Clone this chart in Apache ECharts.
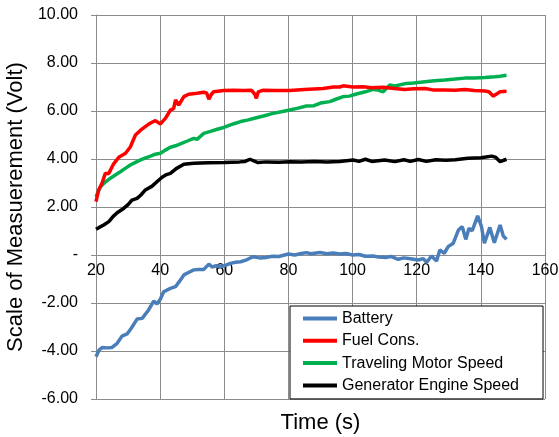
<!DOCTYPE html>
<html><head><meta charset="utf-8">
<script src="https://cdn.jsdelivr.net/npm/echarts@6/dist/echarts.min.js"></script>
<style>html,body{margin:0;padding:0;background:#fff}#c{width:559px;height:437px}</style>
</head><body><div id="c"></div>
<script>
const seriesNames = ['Battery', 'Fuel Cons.', 'Traveling Motor Speed', 'Generator Engine Speed'];
const xTicks = [20, 40, 60, 80, 100, 120, 140, 160];
const yTicks = [-6, -4, -2, 0, 2, 4, 6, 8, 10];

const battery = [[20,-4.24],[21,-3.95],[22,-3.85],[23.5,-3.87],[25,-3.85],[26.6,-3.68],[28.1,-3.38],[29.7,-3.29],[31,-3.05],[32.8,-2.67],[34.4,-2.64],[36.4,-2.29],[38,-1.92],[39,-2.04],[40,-1.85],[41.1,-1.53],[43.2,-1.39],[44.8,-1.32],[46,-1.1],[47.4,-0.83],[49,-0.72],[50.5,-0.62],[52,-0.6],[53.6,-0.6],[55.2,-0.38],[56.2,-0.5],[57.5,-0.45],[58.8,-0.49],[60.5,-0.42],[61.9,-0.35],[63.5,-0.3],[65.1,-0.28],[67,-0.2],[69,-0.07],[71,-0.12],[73.2,-0.1],[75,-0.05],[77,-0.06],[80,0.04],[82,0.0],[84,0.06],[85.6,0.1],[87,0.05],[89.8,0.1],[92,0.05],[94,0.08],[96,0.04],[98,0.06],[100,0.0],[102,0.02],[104,-0.05],[106.4,-0.04],[108,-0.08],[110.6,-0.1],[112,-0.06],[114.2,-0.18],[116,-0.12],[118,-0.16],[120.5,-0.21],[122,-0.15],[123.1,-0.3],[124.6,-0.04],[126.2,-0.25],[127.2,0.21],[128.6,0.07],[129.8,0.35],[131.4,0.49],[133,1.04],[134.2,1.18],[135.3,0.65],[136.3,1.11],[137.3,1.01],[139,1.63],[140.2,1.18],[141.1,0.49],[142.8,1.15],[144.2,0.51],[146,1.25],[147,0.79],[148,0.65]];

const fuel = [[20,2.22],[20.8,2.7],[21.9,3.0],[22.9,3.4],[24,3.4],[25.5,3.8],[27.1,4.07],[29.2,4.24],[30.7,4.5],[32.3,5.0],[33.9,5.2],[35.9,5.4],[37,5.5],[38.5,5.6],[40.1,5.46],[41.7,5.7],[43.2,6.04],[44.2,6.1],[44.8,6.46],[45.8,6.25],[47.4,6.6],[48.9,6.7],[51.5,6.74],[53.6,6.78],[54.5,6.75],[55.2,6.49],[56,6.7],[56.7,6.8],[59.8,6.85],[63,6.86],[66,6.85],[68.5,6.86],[69.5,6.7],[70,6.53],[70.6,6.8],[72,6.86],[76,6.85],[80.4,6.85],[85,6.9],[90.8,6.94],[94,7.0],[96,7.0],[97.1,7.05],[100,7.0],[103.3,7.01],[106,6.97],[109.5,6.99],[113,6.94],[116.3,6.9],[119,6.93],[122.6,6.94],[125,6.88],[128.8,6.88],[132,6.86],[135,6.9],[138,6.85],[141.3,6.83],[142.5,6.8],[143.9,6.62],[145,6.72],[146,6.8],[148,6.82]];

const motor = [[20,2.43],[21.4,2.85],[23,3.05],[24.5,3.2],[26,3.33],[27.6,3.47],[29,3.6],[30.7,3.75],[32.3,3.86],[33.9,3.96],[35.5,4.05],[37,4.12],[38.5,4.2],[40.1,4.24],[41.6,4.37],[43.2,4.49],[44.8,4.55],[46.3,4.63],[48.5,4.75],[50.5,4.86],[51.5,4.82],[53.6,5.07],[55.7,5.15],[57.8,5.24],[59.5,5.3],[60.9,5.37],[63,5.47],[65.1,5.56],[67.5,5.63],[70,5.72],[72.5,5.8],[75.2,5.9],[77.8,5.97],[80.4,6.04],[83,6.12],[85.6,6.21],[88,6.22],[90,6.33],[92.9,6.39],[95,6.5],[97.1,6.6],[99,6.62],[101.2,6.71],[104,6.8],[106.4,6.9],[108,6.87],[109.5,6.8],[111.6,7.08],[113.2,7.04],[116.8,7.15],[119,7.17],[122.6,7.22],[125.5,7.26],[128.8,7.29],[132,7.33],[135,7.37],[138,7.38],[141.3,7.4],[144.4,7.43],[146,7.45],[148,7.49]];

const generator = [[20,1.07],[21,1.15],[22.4,1.25],[24,1.39],[25.3,1.6],[26.6,1.76],[28.6,1.94],[30,2.1],[31.2,2.29],[32.8,2.36],[34,2.5],[35.4,2.71],[37.5,2.87],[39,3.05],[40.6,3.24],[42,3.35],[43.2,3.4],[45,3.6],[47.4,3.78],[50.5,3.82],[55,3.84],[60,3.85],[64.8,3.88],[66.5,3.9],[68,3.99],[70.5,3.85],[73,3.88],[77,3.86],[80.4,3.89],[84,3.88],[88,3.9],[92,3.88],[96,3.9],[100.2,3.96],[102,3.9],[104,3.99],[106,3.9],[108,3.93],[110,3.96],[113.2,3.89],[116,3.97],[118,3.9],[120.5,3.98],[123,3.9],[126,3.97],[129,3.95],[132,3.97],[136,4.03],[140,4.05],[143.4,4.12],[144.5,4.08],[146,3.89],[148,3.99]];

const colors = ['#4a7ebb', '#ff0000', '#00b050', '#000000'];
const datasets = [battery, fuel, motor, generator];

const W = 559, H = 437;
const gridTop = 15, gridBottom = 38;
const yMin = yTicks[0], yMax = yTicks[yTicks.length - 1];
const plotH = H - gridTop - gridBottom;
// distance from the grid bottom to the y = 0 line, so the x axis crosses at zero
const zeroOffset = plotH * (0 - yMin) / (yMax - yMin);

const chart = echarts.init(document.getElementById('c'));
const font = 'Liberation Sans, Arial, sans-serif';
const gridColor = '#8c8c8c';
chart.setOption({
  animation: false,
  textStyle: { fontFamily: font },
  grid: { left: 96, right: 14, top: gridTop, bottom: gridBottom, containLabel: false, outerBoundsMode: 'none' },
  legend: {
    orient: 'vertical', left: 290, top: 306,
    data: seriesNames,
    icon: 'rect',
    backgroundColor: '#fff',
    borderColor: '#000', borderWidth: 1,
    padding: [4, 24, 5, 13],
    itemWidth: 34, itemHeight: 4, itemGap: 5.3,
    textStyle: { fontSize: 16, color: '#000', fontFamily: font, lineHeight: 17 }
  },
  xAxis: {
    type: 'value', position: 'bottom', offset: -zeroOffset,
    min: xTicks[0], max: xTicks[xTicks.length - 1], interval: 20,
    name: 'Time (s)', nameLocation: 'middle', nameGap: 157,
    nameTextStyle: { fontSize: 22, color: '#000', fontFamily: font },
    axisLine: { onZero: false, lineStyle: { color: gridColor, width: 1 } },
    axisTick: { show: false },
    axisLabel: { fontSize: 16, color: '#000', margin: 8, fontFamily: font },
    splitLine: { show: true, lineStyle: { color: gridColor, width: 1 } }
  },
  yAxis: {
    type: 'value', min: yMin, max: yMax, interval: 2,
    name: 'Scale of Measuerement (Volt)', nameLocation: 'middle', nameGap: 65,
    nameTextStyle: { fontSize: 22, color: '#000', fontFamily: font },
    axisLine: { show: true, onZero: false, lineStyle: { color: gridColor, width: 1 } },
    axisTick: { show: true, length: 5, lineStyle: { color: gridColor } },
    axisLabel: { fontSize: 16, color: '#000', margin: 18, fontFamily: font,
      formatter: v => v === 0 ? '-' : v.toFixed(2) },
    splitLine: { show: true, lineStyle: { color: gridColor, width: 1 } }
  },
  series: seriesNames.map((n, i) => ({
    name: n, type: 'line', data: datasets[i],
    symbol: 'none', smooth: false,
    color: colors[i],
    lineStyle: { color: colors[i], width: 3.5 },
    z: i === 0 ? 5 : 4 - i + 2
  }))
});
</script></body></html>
